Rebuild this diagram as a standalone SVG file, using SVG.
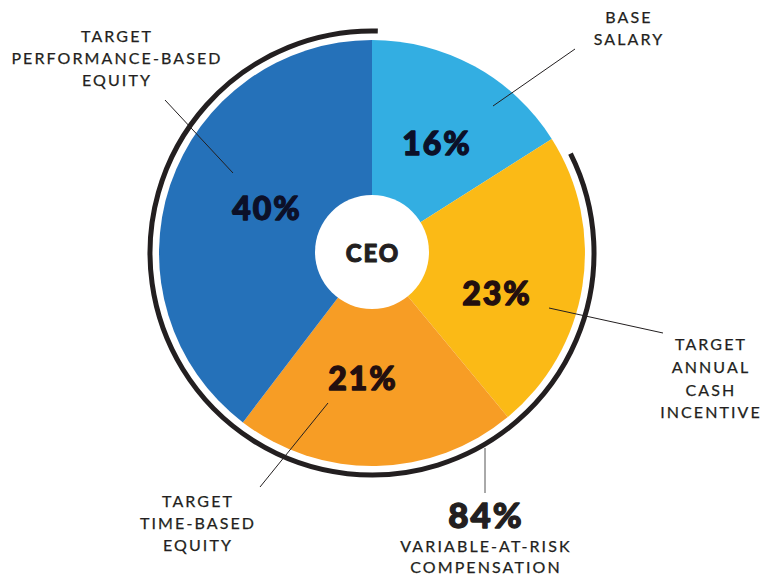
<svg xmlns="http://www.w3.org/2000/svg" width="762" height="575" viewBox="0 0 762 575">
<style>
.lbl{font-family:Lato,"Liberation Sans",sans-serif;font-size:16px;fill:#231F20;stroke:#231F20;stroke-width:0.25px;letter-spacing:2.1px;text-anchor:middle}
.pct{font-family:Lato,"Liberation Sans",sans-serif;font-weight:900;font-size:32px;text-anchor:middle;letter-spacing:2px;stroke-width:1.3px;stroke-linejoin:round}
.lead{stroke:#231F20;stroke-width:1;fill:none}
</style>
<rect width="762" height="575" fill="#ffffff"/>
<g id="slice-base-salary">
<path d="M372 253 L372 40 A213 213 0 0 1 551.8 138.9 Z" fill="#33AEE2"/>
</g>
<g id="slice-annual-cash">
<path d="M372 253 L551.8 138.9 A213 213 0 0 1 507.8 417.1 Z" fill="#FBBA16"/>
</g>
<g id="slice-time-equity">
<path d="M372 253 L507.8 417.1 A213 213 0 0 1 242.9 422.4 Z" fill="#F79D25"/>
</g>
<g id="slice-performance-equity">
<path d="M372 253 L242.9 422.4 A213 213 0 0 1 372 40 Z" fill="#2571B9"/>
</g>
<g id="variable-arc">
<path d="M570.5 153.6 A222 222 0 1 1 377.8 31.1" fill="none" stroke="#231F20" stroke-width="5"/>
</g>
<g id="connectors">
<line class="lead" x1="493" y1="106" x2="575" y2="49"/>
<line class="lead" x1="165" y1="100" x2="233" y2="173"/>
<line class="lead" x1="549" y1="308" x2="663" y2="333"/>
<line class="lead" x1="328" y1="403" x2="260" y2="487"/>
<line x1="485" y1="448" x2="485" y2="493" stroke="#555555" stroke-width="1"/>
</g>
<g id="ceo">
<circle cx="372" cy="252" r="57" fill="#ffffff"/>
<text class="pct" x="373" y="262" fill="#231F20" stroke="#231F20" style="font-size:24px;letter-spacing:2px;stroke-width:1px">CEO</text>
</g>
<g id="pct-labels">
<text class="pct" x="437" y="155" fill="#0C1028" stroke="#0C1028">16%</text>
<text class="pct" x="267" y="220" fill="#0C1028" stroke="#0C1028">40%</text>
<text class="pct" x="497" y="305" fill="#230F0F" stroke="#230F0F">23%</text>
<text class="pct" x="363" y="390" fill="#230F0F" stroke="#230F0F">21%</text>
</g>
<g id="label-base-salary">
<text class="lbl" x="629" y="23">BASE</text>
<text class="lbl" x="629" y="45">SALARY</text>
</g>
<g id="label-performance-equity">
<text class="lbl" x="117" y="42">TARGET</text>
<text class="lbl" x="117" y="64">PERFORMANCE-BASED</text>
<text class="lbl" x="117" y="86">EQUITY</text>
</g>
<g id="label-annual-cash">
<text class="lbl" x="711" y="350">TARGET</text>
<text class="lbl" x="711" y="373">ANNUAL</text>
<text class="lbl" x="711" y="396">CASH</text>
<text class="lbl" x="711" y="418">INCENTIVE</text>
</g>
<g id="label-time-equity">
<text class="lbl" x="198" y="507">TARGET</text>
<text class="lbl" x="198" y="529">TIME-BASED</text>
<text class="lbl" x="198" y="551">EQUITY</text>
</g>
<g id="label-variable">
<text class="pct" x="486" y="528" fill="#231F20" stroke="#231F20" style="font-size:35px">84%</text>
<text class="lbl" x="486" y="552">VARIABLE-AT-RISK</text>
<text class="lbl" x="486" y="573">COMPENSATION</text>
</g>
</svg>
